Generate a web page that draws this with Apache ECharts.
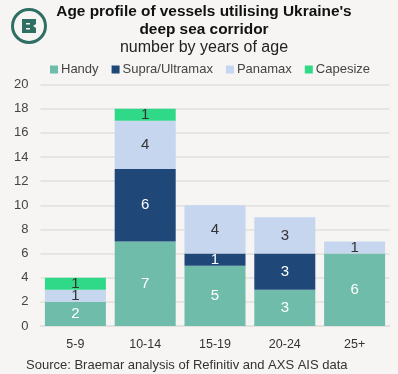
<!DOCTYPE html>
<html>
<head>
<meta charset="utf-8">
<style>
  html, body { margin: 0; padding: 0; background: #f6f5f3; }
  #chart { width: 398px; height: 374px; }
</style>
<script src="https://cdn.jsdelivr.net/npm/echarts@6/dist/echarts.min.js"></script>
</head>
<body>
<div id="chart"></div>
<script>
  var categories = ['5-9', '10-14', '15-19', '20-24', '25+'];
  var handy = [2, 7, 5, 3, 6];
  var supra = [0, 6, 1, 3, 0];
  var panamax = [1, 4, 4, 3, 1];
  var capesize = [1, 1, 0, 0, 0];

  var fontName = 'Liberation Sans';
  var green = '#2e6e63';

  function barSeries(name, values, color, labelColor) {
    return {
      name: name,
      type: 'bar',
      stack: 'age',
      data: values,
      barWidth: 61,
      itemStyle: { color: color },
      label: {
        show: true,
        color: labelColor,
        fontFamily: fontName,
        fontSize: 15,
        formatter: function (p) { return p.value === 0 ? '' : p.value; }
      }
    };
  }

  var option = {
    animation: false,
    backgroundColor: '#f6f5f3',
    textStyle: { fontFamily: fontName },
    title: [{
      text: "Age profile of vessels utilising Ukraine's\ndeep sea corridor",
      left: 199, top: -2, textAlign: 'center',
      textStyle: { fontFamily: fontName, fontSize: 15.4, fontWeight: 'bold', color: '#111111', lineHeight: 18 }
    }, {
      text: 'number by years of age',
      left: 199, top: 35, textAlign: 'center',
      textStyle: { fontFamily: fontName, fontSize: 16, fontWeight: 'normal', color: '#222222' }
    }, {
      text: 'Source: Braemar analysis of Refinitiv and AXS AIS data',
      left: 21, top: 354,
      textStyle: { fontFamily: fontName, fontSize: 13, fontWeight: 'normal', color: '#333333' }
    }],
    legend: {
      left: 45, top: 58,
      icon: 'rect',
      itemWidth: 8, itemHeight: 8, itemGap: 13,
      textStyle: { fontFamily: fontName, fontSize: 13, color: '#444444', padding: [0, 0, 0, -2] },
      data: ['Handy', 'Supra/Ultramax', 'Panamax', 'Capesize']
    },
    grid: { left: 40.5, right: 8.5, top: 84.5, bottom: 48 },
    xAxis: {
      type: 'category',
      data: categories,
      axisTick: { show: false },
      axisLine: { lineStyle: { color: '#e0dfdc', width: 1.5 } },
      axisLabel: { color: '#333333', fontSize: 12.5, margin: 12, fontFamily: fontName }
    },
    yAxis: {
      type: 'value',
      min: 0, max: 20, interval: 2,
      axisLabel: { color: '#444444', fontSize: 13, margin: 12, fontFamily: fontName },
      axisLine: { show: false },
      axisTick: { show: false },
      splitLine: { lineStyle: { color: '#e0dfdc', width: 1.5 } }
    },
    series: [
      barSeries('Handy', handy, '#6fbcab', '#ffffff'),
      barSeries('Supra/Ultramax', supra, '#1f4778', '#ffffff'),
      barSeries('Panamax', panamax, '#c5d6ee', '#333333'),
      barSeries('Capesize', capesize, '#2fd987', '#333333')
    ],
    // logo: ring with a blocky B
    graphic: [
      { type: 'ring', shape: { cx: 29, cy: 26, r: 18, r0: 15 }, style: { fill: green } },
      { type: 'polygon', shape: { points: [[22, 19], [36, 19], [36, 24], [33, 26], [36, 28], [36, 33], [22, 33]] }, style: { fill: green } },
      { type: 'rect', shape: { x: 26, y: 23, width: 4, height: 1.5 }, style: { fill: '#f6f5f3' } },
      { type: 'rect', shape: { x: 26, y: 28, width: 4, height: 1.5 }, style: { fill: '#f6f5f3' } }
    ]
  };

  var myChart = echarts.init(document.getElementById('chart'));
  myChart.setOption(option);
</script>
</body>
</html>
